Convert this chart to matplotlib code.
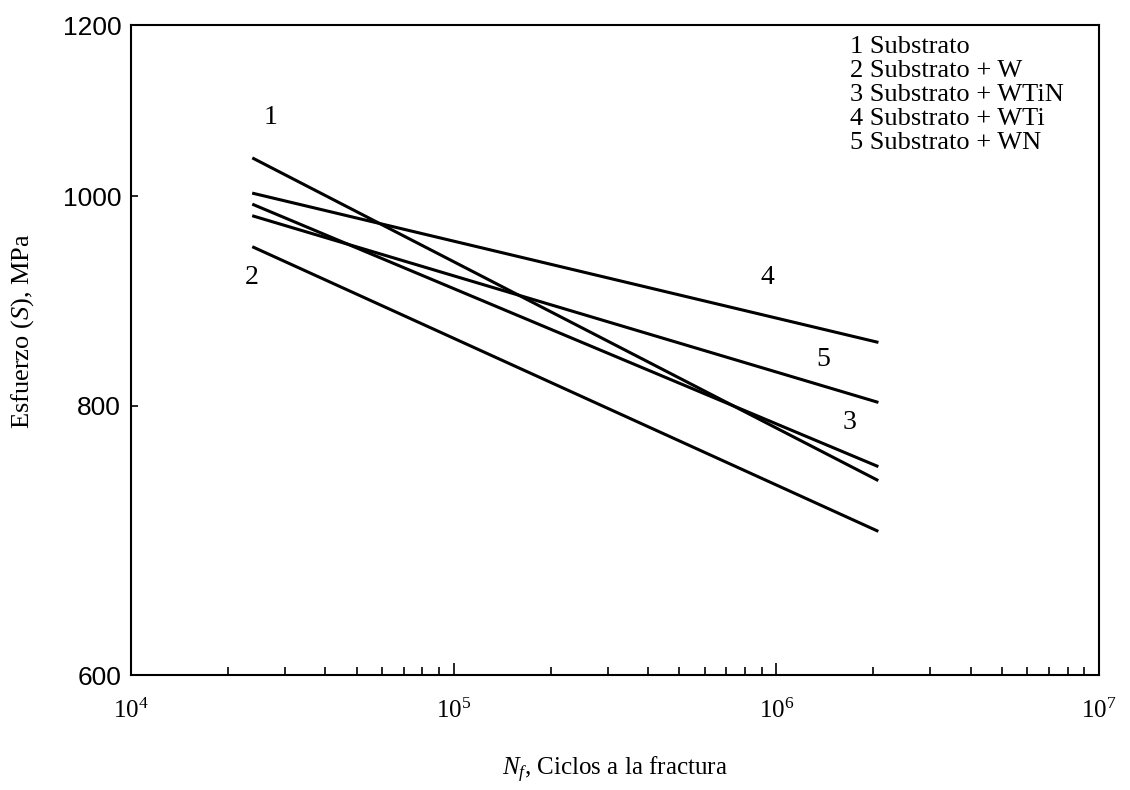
import matplotlib
matplotlib.use("Agg")
import matplotlib.pyplot as plt
from matplotlib.ticker import FixedLocator, FixedFormatter, NullLocator, LogLocator

# curve ids and ends (cycles, stress in MPa)
curve_ids = ["1", "2", "3", "4", "5"]
n_start = [2.4e4, 2.4e4, 2.4e4, 2.4e4, 2.4e4]
n_end = [2.05e6, 2.05e6, 2.05e6, 2.05e6, 2.05e6]
s_start = [1041, 947, 991, 1003, 979]
s_end = [739, 700, 750, 856, 803]

# where each curve number is written
label_n = [2.7e4, 2.37e4, 1.69e6, 9.4e5, 1.4e6]
label_s = [1088, 917, 786, 917, 840]

legend_lines = ["1 Substrato", "2 Substrato + W", "3 Substrato + WTiN",
                "4 Substrato + WTi", "5 Substrato + WN"]

y_ticks = [600, 800, 1000, 1200]
x_ticks = [1e4, 1e5, 1e6, 1e7]
x_ticklabels = [r"10$^{4}$", r"10$^{5}$", r"10$^{6}$", r"10$^{7}$"]

serif = ["Liberation Serif", "DejaVu Serif"]
plt.rcParams["mathtext.fontset"] = "custom"
plt.rcParams["mathtext.rm"] = "Liberation Serif"
plt.rcParams["mathtext.it"] = "Liberation Serif:italic"

fig = plt.figure(figsize=(11.3, 7.9), dpi=100)
ax = fig.add_axes([0.1159, 0.1452, 0.8567, 0.8228])

for i in range(len(curve_ids)):
    ax.plot([n_start[i], n_end[i]], [s_start[i], s_end[i]], color="black", lw=2.2)
    ax.text(label_n[i], label_s[i], curve_ids[i], fontsize=20, family=serif,
            ha="center", va="center")

ax.set_xscale("log")
ax.set_yscale("log")
ax.set_xlim(1e4, 1e7)
ax.set_ylim(600, 1200)

ax.xaxis.set_major_locator(FixedLocator(x_ticks))
ax.xaxis.set_major_formatter(FixedFormatter(x_ticklabels))
ax.xaxis.set_minor_locator(LogLocator(base=10, subs=range(2, 10)))
ax.xaxis.set_minor_formatter(FixedFormatter([]))
ax.yaxis.set_major_locator(FixedLocator(y_ticks))
ax.yaxis.set_major_formatter(FixedFormatter([str(v) for v in y_ticks]))
ax.yaxis.set_minor_locator(NullLocator())

ax.tick_params(axis="x", which="major", direction="in", length=9, width=1.2,
               pad=17, labelsize=18)
ax.tick_params(axis="x", which="minor", direction="in", length=6, width=1.2)
ax.tick_params(axis="y", direction="in", length=5, width=1.2, pad=7, labelsize=19)
for lab in ax.get_xticklabels():
    lab.set_family(serif)
for lab in ax.get_yticklabels():
    lab.set_family(["Liberation Sans", "DejaVu Sans"])

for sp in ax.spines.values():
    sp.set_linewidth(1.5)

for k, txt in enumerate(legend_lines):
    ax.text(0.743, 0.9835 - k * 0.0369, txt, transform=ax.transAxes, fontsize=19,
            family=serif, ha="left", va="top")

ax.set_ylabel(r"Esfuerzo ($S$), MPa", fontsize=19, family=serif)
ax.yaxis.set_label_coords(-0.098, 0.53)
ax.set_xlabel(r"$N_f$, Ciclos a la fractura", fontsize=18, family=serif, labelpad=23)

fig.savefig("out.png", dpi=100)
